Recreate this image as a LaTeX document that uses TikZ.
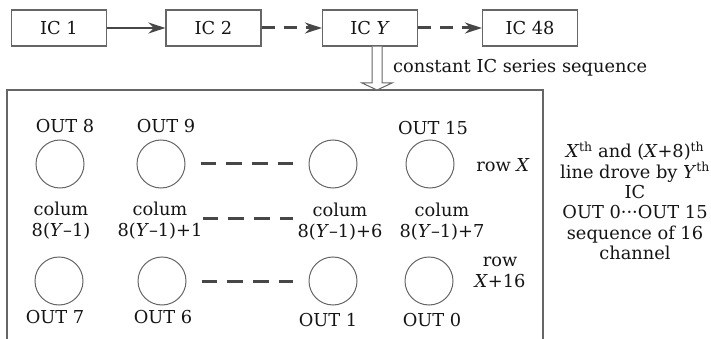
\documentclass[tikz,border=0pt]{standalone}
\usepackage{fontspec}
\setmainfont{DejaVu Serif}
\usetikzlibrary{arrows.meta,calc}
\newcommand{\vi}[1]{\textit{#1}}
\newcommand{\thsup}{\textsuperscript{th}}
\begin{document}
\begin{tikzpicture}[x=1pt,y=-1pt,
  every node/.style={font=\fontsize{17.8}{21}\selectfont, text=black!92, inner sep=0pt},
  icbox/.style={draw=black!60, line width=1.2pt, minimum width=95pt, minimum height=36pt},
  led/.style={draw=black!60, line width=1pt, circle, minimum size=48pt},
  lbl/.style={align=center},
  dsh/.style={draw=black!72, line width=3pt, dash pattern=on 15.75pt off 10pt},
  tdsh/.style={draw=black!72, line width=3pt, dash pattern=on 13pt off 9pt, -{Stealth[length=17pt,width=11pt]}},
  tsol/.style={draw=black!72, line width=2pt, -{Stealth[length=17pt,width=11pt]}},
]
\useasboundingbox (0,0) rectangle (711,339);

% top chain
\node[icbox] (ic1)  at (59,28)    {IC 1};
\node[icbox] (ic2)  at (213.5,28) {IC 2};
\node[icbox] (icy)  at (370,28)   {IC \vi{Y}};
\node[icbox] (ic48) at (530,28)   {IC 48};
\draw[tsol] (ic1) -- (ic2);
\draw[tdsh] (ic2) -- (icy);
\draw[tdsh] (icy) -- (ic48);

% big frame
\coordinate (fl) at (7,90);
\coordinate (fr) at (543,90);
\draw[black!60, line width=1.2pt] (7,339) -- (fl) -- (fr) -- (543,339);

% hollow arrow
\coordinate (da) at ($(icy.south)+(7,0)$);
\coordinate (db) at (da |- fl);
\draw[black!60, line width=1pt, fill=white]
  ($(da)+(-5,0)$) -- ($(db)+(-5,-7)$) -- ($(db)+(-15,-7)$) -- (db)
  -- ($(db)+(15,-7)$) -- ($(db)+(5,-7)$) -- ($(da)+(5,0)$);
\node[anchor=west] (cap) at (393,68) {constant IC series sequence};

% LEDs
\node[led] (a1) at (60,164) {};
\node[led] (a2) at (161,164) {};
\node[led] (a3) at (333,164) {};
\node[led] (a4) at (430,164) {};
\node[led] (b1) at (59,281) {};
\node[led] (b2) at (162,281) {};
\node[led] (b3) at (333,281) {};
\node[led] (b4) at (429,281) {};

\draw[dsh, shorten <=15pt, shorten >=16pt] (a2) -- (a3);
\draw[dsh, shorten <=15pt, shorten >=16pt] (b2) -- (b3);
\coordinate (ma) at ($(a2.east |- 0,218)+(17,0)$);
\coordinate (mb) at ($(a3.west |- 0,218)+(-16,0)$);
\draw[dsh] (ma) -- (mb);

% labels
\node (o8)  at (65,126)  {OUT 8};
\node (o9)  at (166,126) {OUT 9};
\node (o15) at (433,128) {OUT 15};
\node (o7)  at (55,317)  {OUT 7};
\node (o6)  at (163,317) {OUT 6};
\node (o1)  at (328,320) {OUT 1};
\node (o0)  at (432,320) {OUT 0};

\node[lbl] (c1) at (61,221)  {colum\\8(\vi{Y}–1)};
\node[lbl] (c2) at (160,221) {colum\\8(\vi{Y}–1)+1};
\node[lbl] (c3) at (340,222) {colum\\8(\vi{Y}–1)+6};
\node[lbl] (c4) at (442,222) {colum\\8(\vi{Y}–1)+7};

\node (rx) at (503,165) {row \vi{X}};
\node[lbl] (rx16) at (500,272) {row\\\vi{X}+16};

\node[lbl, font=\fontsize{17.8}{20.4}\selectfont] (desc) at (635,201)
  {\vi{X}\thsup{} and (\vi{X}+8)\thsup\\line drove by \vi{Y}\thsup\\IC\\OUT 0···OUT 15\\sequence of 16\\channel};
\end{tikzpicture}
\end{document}
